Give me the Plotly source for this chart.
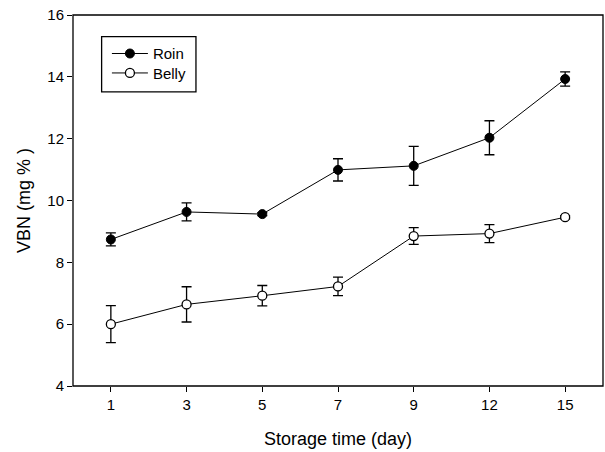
import plotly.graph_objects as go

days = ["1", "3", "5", "7", "9", "12", "15"]
roin = [8.74, 9.63, 9.56, 10.99, 11.12, 12.03, 13.93]
roin_err = [0.21, 0.29, 0.05, 0.36, 0.63, 0.55, 0.23]
belly = [6.00, 6.64, 6.92, 7.22, 8.85, 8.93, 9.46]
belly_err = [0.60, 0.57, 0.33, 0.30, 0.27, 0.29, 0.05]
y_ticks = [4, 6, 8, 10, 12, 14, 16]

FONT = "Liberation Sans, Arial, sans-serif"

fig = go.Figure()
fig.add_trace(go.Scatter(
    x=days, y=roin, name="Roin", mode="lines+markers", legend="legend",
    line=dict(color="black", width=1),
    marker=dict(symbol="circle", size=9, color="black", line=dict(color="black", width=1)),
    error_y=dict(type="data", array=roin_err, visible=True, color="black", thickness=1.3, width=5),
))
fig.add_trace(go.Scatter(
    x=days, y=belly, name="Belly", mode="lines+markers", legend="legend2",
    line=dict(color="black", width=1),
    marker=dict(symbol="circle", size=9, color="white", line=dict(color="black", width=1.3)),
    error_y=dict(type="data", array=belly_err, visible=True, color="black", thickness=1.3, width=5),
))

# plot frame
fig.add_shape(type="rect", xref="paper", yref="paper", x0=0, x1=1, y0=0, y1=1,
              line=dict(color="black", width=1.3), fillcolor="rgba(0,0,0,0)", layer="above")
# legend frame
fig.add_shape(type="rect", xref="paper", yref="paper",
              x0=0.054, x1=0.232, y0=0.793, y1=0.9415,
              line=dict(color="black", width=1.3), fillcolor="rgba(0,0,0,0)")

leg_common = dict(xanchor="left", yanchor="top", borderwidth=0, bgcolor="rgba(0,0,0,0)",
                  font=dict(family=FONT, size=15, color="black"), itemwidth=36)

fig.update_layout(
    width=605, height=452,
    margin=dict(l=73, r=2, t=15, b=66),
    paper_bgcolor="white", plot_bgcolor="white",
    font=dict(family=FONT, size=15, color="black"),
    showlegend=True,
    legend=dict(x=0.064, y=0.940, **leg_common),
    legend2=dict(x=0.064, y=0.8876, **leg_common),
    xaxis=dict(
        type="category", range=[-0.5, 6.5],
        showline=False,
        ticks="outside", ticklen=5, tickcolor="black", tickwidth=1.3,
        showgrid=False, zeroline=False, ticklabeloverflow="allow",
        tickfont=dict(family=FONT, size=15),
        title=dict(text="Storage time (day)", font=dict(family=FONT, size=18), standoff=20),
    ),
    yaxis=dict(
        range=[4, 16], tickvals=y_ticks,
        showline=False,
        ticks="outside", ticklen=5, tickcolor="black", tickwidth=1.3,
        showgrid=False, zeroline=False, ticklabeloverflow="allow",
        tickfont=dict(family=FONT, size=15),
        title=dict(text="VBN (mg % )", font=dict(family=FONT, size=18), standoff=12),
    ),
)

fig.write_html("out.html", config={"displayModeBar": False},
               post_script="document.body.style.margin='0';")
